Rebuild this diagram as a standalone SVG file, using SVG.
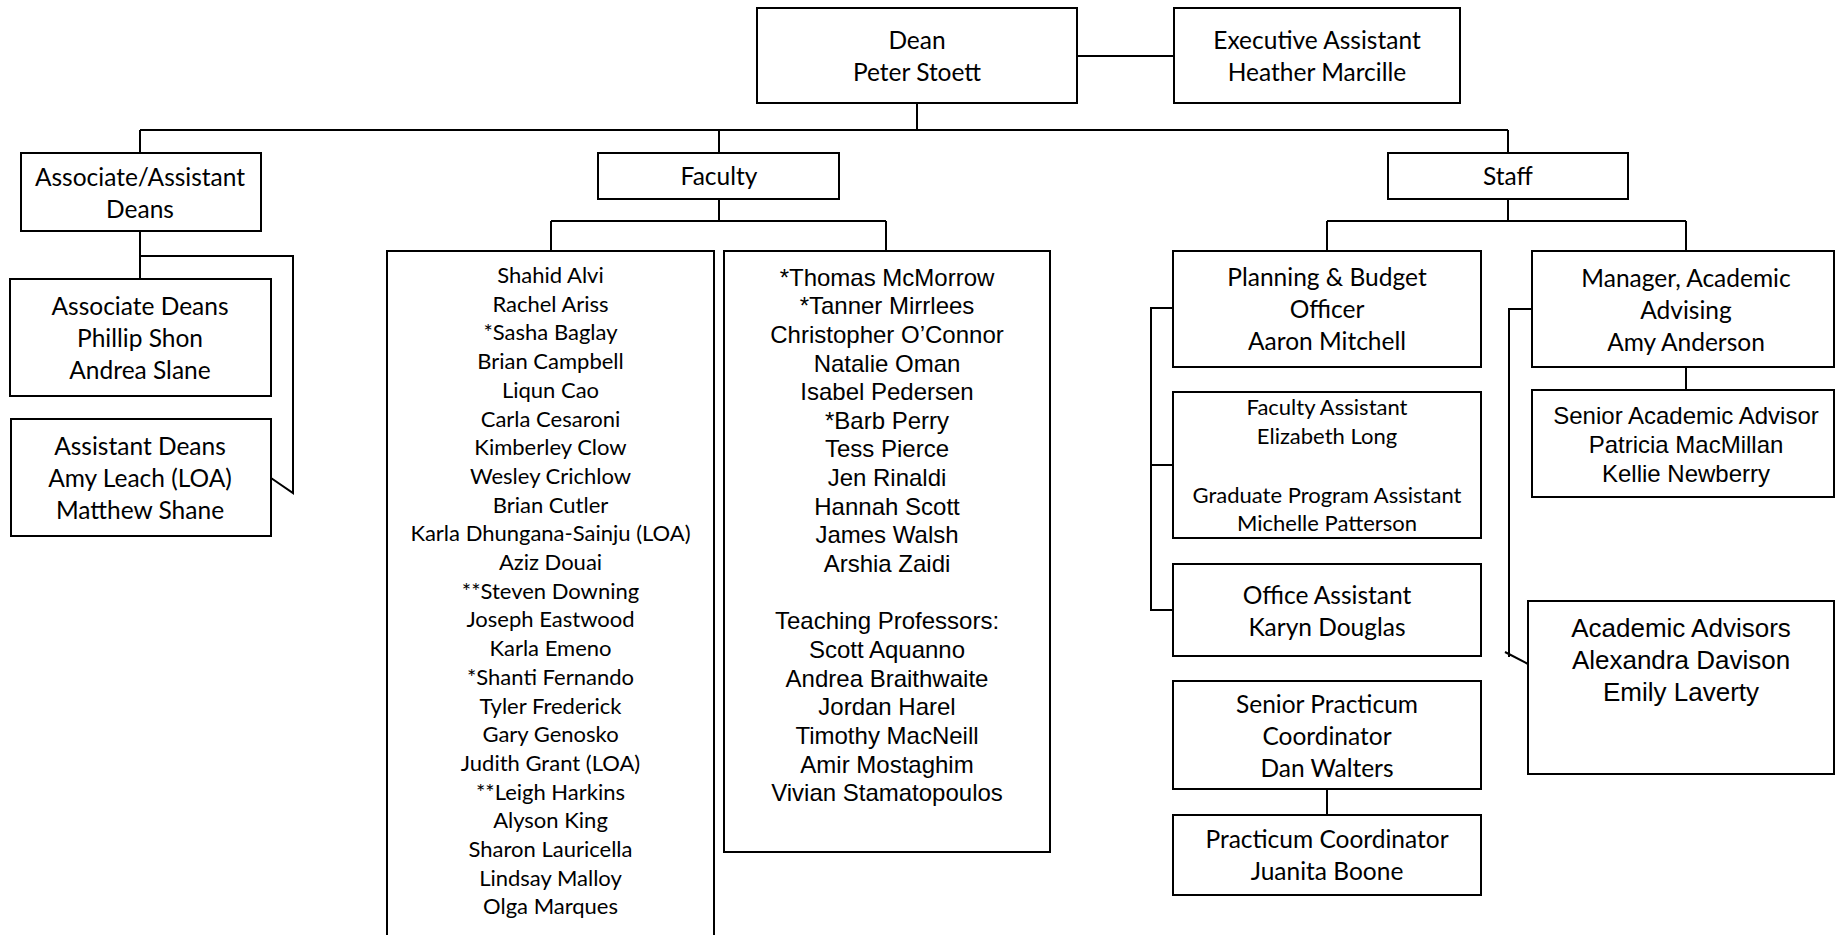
<svg xmlns="http://www.w3.org/2000/svg" width="1835" height="935" viewBox="0 0 1835 935">
<style>
.box{fill:#fff;stroke:#000;stroke-width:2}
.ln{fill:none;stroke:#000;stroke-width:2}
text{fill:#000;text-anchor:middle}
.c{font-family:Lato,"Liberation Sans",sans-serif;font-size:24.5px}
.s{font-family:Lato,"Liberation Sans",sans-serif;font-size:22px}
.a{font-family:"Liberation Sans",Arial,sans-serif;font-size:24px}
.a2{font-family:"Liberation Sans",Arial,sans-serif;font-size:26px}
</style>
<rect width="1835" height="935" fill="#fff"/>
<g id="connectors" class="ln">
<path d="M1077 56H1174"/>
<path d="M917 104V130M140 130H1508M140 130V153M719 130V153M1508 130V153"/>
<path d="M140 231V279M140 256H293V493L271 478"/>
<path d="M719 199V221M551 221H886M551 221V251M886 221V251"/>
<path d="M1508 199V221M1327 221H1686M1327 221V251M1686 221V251"/>
<path d="M1173 308H1151V610H1173M1151 465H1173"/>
<path d="M1327 789V815"/>
<path d="M1532 309H1509V657M1505 652L1528 664"/>
<path d="M1686 367V390"/>
</g>
<g id="dean"><rect class="box" x="757" y="8" width="320" height="95"/><text class="c" x="917" y="49">Dean</text><text class="c" x="917" y="81">Peter Stoett</text></g>
<g id="exec"><rect class="box" x="1174" y="8" width="286" height="95"/><text class="c" x="1317" y="49">Executive Assistant</text><text class="c" x="1317" y="81">Heather Marcille</text></g>
<g id="assoc-assist"><rect class="box" x="21" y="153" width="240" height="78"/><text class="c" x="140" y="186">Associate/Assistant</text><text class="c" x="140" y="218">Deans</text></g>
<g id="faculty"><rect class="box" x="598" y="153" width="241" height="46"/><text class="c" x="719" y="185">Faculty</text></g>
<g id="staff"><rect class="box" x="1388" y="153" width="240" height="46"/><text class="c" x="1508" y="185">Staff</text></g>
<g id="associate-deans"><rect class="box" x="10" y="279" width="261" height="117"/><text class="c" x="140" y="315">Associate Deans</text><text class="c" x="140" y="347">Phillip Shon</text><text class="c" x="140" y="379">Andrea Slane</text></g>
<g id="assistant-deans"><rect class="box" x="11" y="419" width="260" height="117"/><text class="c" x="140" y="455">Assistant Deans</text><text class="c" x="140" y="487">Amy Leach (LOA)</text><text class="c" x="140" y="519">Matthew Shane</text></g>
<g id="faculty-list-1"><rect class="box" x="387" y="251" width="327" height="700"/>
<text class="s" x="550.5" y="283">Shahid Alvi</text>
<text class="s" x="550.5" y="311.7">Rachel Ariss</text>
<text class="s" x="550.5" y="340.4">*Sasha Baglay</text>
<text class="s" x="550.5" y="369.1">Brian Campbell</text>
<text class="s" x="550.5" y="397.8">Liqun Cao</text>
<text class="s" x="550.5" y="426.5">Carla Cesaroni</text>
<text class="s" x="550.5" y="455.2">Kimberley Clow</text>
<text class="s" x="550.5" y="483.9">Wesley Crichlow</text>
<text class="s" x="550.5" y="512.6">Brian Cutler</text>
<text class="s" x="550.5" y="541.3">Karla Dhungana-Sainju (LOA)</text>
<text class="s" x="550.5" y="570">Aziz Douai</text>
<text class="s" x="550.5" y="598.7">**Steven Downing</text>
<text class="s" x="550.5" y="627.4">Joseph Eastwood</text>
<text class="s" x="550.5" y="656.1">Karla Emeno</text>
<text class="s" x="550.5" y="684.8">*Shanti Fernando</text>
<text class="s" x="550.5" y="713.5">Tyler Frederick</text>
<text class="s" x="550.5" y="742.2">Gary Genosko</text>
<text class="s" x="550.5" y="770.9">Judith Grant (LOA)</text>
<text class="s" x="550.5" y="799.6">**Leigh Harkins</text>
<text class="s" x="550.5" y="828.3">Alyson King</text>
<text class="s" x="550.5" y="857">Sharon Lauricella</text>
<text class="s" x="550.5" y="885.7">Lindsay Malloy</text>
<text class="s" x="550.5" y="914.4">Olga Marques</text>
</g>
<g id="faculty-list-2"><rect class="box" x="724" y="251" width="326" height="601"/>
<text class="a" x="887" y="285.5">*Thomas McMorrow</text>
<text class="a" x="887" y="314.2">*Tanner Mirrlees</text>
<text class="a" x="887" y="342.8">Christopher O’Connor</text>
<text class="a" x="887" y="371.5">Natalie Oman</text>
<text class="a" x="887" y="400.1">Isabel Pedersen</text>
<text class="a" x="887" y="428.8">*Barb Perry</text>
<text class="a" x="887" y="457.4">Tess Pierce</text>
<text class="a" x="887" y="486.1">Jen Rinaldi</text>
<text class="a" x="887" y="514.7">Hannah Scott</text>
<text class="a" x="887" y="543.4">James Walsh</text>
<text class="a" x="887" y="572">Arshia Zaidi</text>
<text class="a" x="887" y="629.3">Teaching Professors:</text>
<text class="a" x="887" y="658">Scott Aquanno</text>
<text class="a" x="887" y="686.6">Andrea Braithwaite</text>
<text class="a" x="887" y="715.3">Jordan Harel</text>
<text class="a" x="887" y="743.9">Timothy MacNeill</text>
<text class="a" x="887" y="772.6">Amir Mostaghim</text>
<text class="a" x="887" y="801.2">Vivian Stamatopoulos</text>
</g>
<g id="planning"><rect class="box" x="1173" y="251" width="308" height="116"/><text class="c" x="1327" y="286">Planning &amp; Budget</text><text class="c" x="1327" y="318">Officer</text><text class="c" x="1327" y="350">Aaron Mitchell</text></g>
<g id="faculty-assistant"><rect class="box" x="1173" y="392" width="308" height="146"/><text class="s" x="1327" y="415">Faculty Assistant</text><text class="s" x="1327" y="444">Elizabeth Long</text><text class="s" x="1327" y="503">Graduate Program Assistant</text><text class="s" x="1327" y="531">Michelle Patterson</text></g>
<g id="office-assistant"><rect class="box" x="1173" y="564" width="308" height="92"/><text class="c" x="1327" y="604">Office Assistant</text><text class="c" x="1327" y="636">Karyn Douglas</text></g>
<g id="senior-practicum"><rect class="box" x="1173" y="681" width="308" height="108"/><text class="c" x="1327" y="713">Senior Practicum</text><text class="c" x="1327" y="745">Coordinator</text><text class="c" x="1327" y="777">Dan Walters</text></g>
<g id="practicum"><rect class="box" x="1173" y="815" width="308" height="80"/><text class="c" x="1327" y="848">Practicum Coordinator</text><text class="c" x="1327" y="880">Juanita Boone</text></g>
<g id="manager"><rect class="box" x="1532" y="251" width="302" height="116"/><text class="c" x="1686" y="287">Manager, Academic</text><text class="c" x="1686" y="319">Advising</text><text class="c" x="1686" y="351">Amy Anderson</text></g>
<g id="senior-advisor"><rect class="box" x="1532" y="390" width="302" height="107"/><text class="a" x="1686" y="423.6">Senior Academic Advisor</text><text class="a" x="1686" y="452.6">Patricia MacMillan</text><text class="a" x="1686" y="481.6">Kellie Newberry</text></g>
<g id="advisors"><rect class="box" x="1528" y="601" width="306" height="173"/><text class="a2" x="1681" y="637">Academic Advisors</text><text class="a2" x="1681" y="669">Alexandra Davison</text><text class="a2" x="1681" y="701">Emily Laverty</text></g>
</svg>
